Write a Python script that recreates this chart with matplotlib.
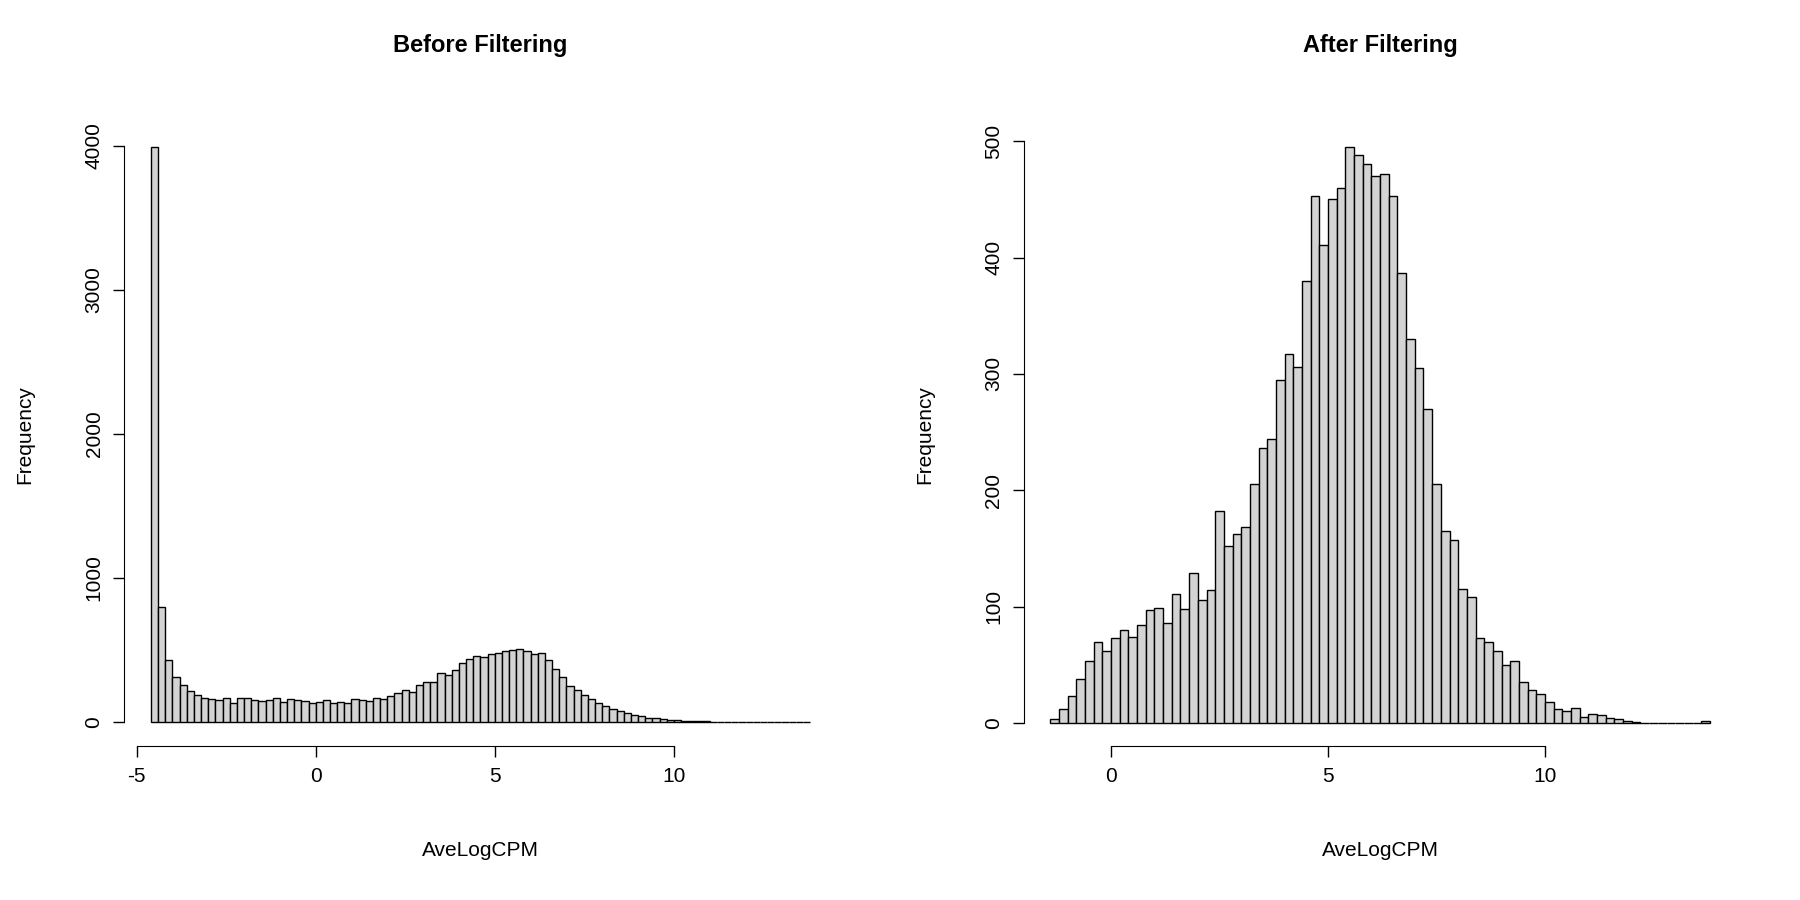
import numpy as np
import matplotlib
matplotlib.use("Agg")
import matplotlib.pyplot as plt

plt.rcParams['font.family'] = ['Liberation Sans', 'DejaVu Sans']
plt.rcParams['axes.unicode_minus'] = False

before_start = -4.6
bin_width = 0.2
before_counts = [3990, 800, 430, 310, 260, 215, 185, 170, 160, 155, 165, 130, 165, 170, 150,
                 145, 150, 165, 140, 160, 150, 145, 130, 140, 150, 135, 140, 130, 160, 150,
                 145, 170, 160, 180, 200, 220, 210, 260, 280, 280, 340, 330, 360, 410, 440,
                 460, 455, 470, 480, 490, 500, 510, 495, 470, 480, 430, 370, 310, 250, 220,
                 185, 160, 130, 110, 90, 75, 60, 50, 40, 30, 25, 20, 15, 12, 10,
                 8, 6, 5, 4, 3, 2, 2, 1, 1, 1, 1, 0, 1, 0, 0, 0, 1]

after_start = -1.4
after_counts = [3, 12, 23, 38, 53, 70, 62, 73, 80, 74, 84, 97, 99, 86, 111, 98, 129, 106, 114,
                182, 152, 162, 168, 205, 236, 244, 295, 317, 306, 380, 453, 411, 450, 460,
                495, 488, 480, 470, 472, 453, 387, 330, 305, 270, 205, 165, 157, 115, 108,
                73, 70, 62, 50, 53, 35, 28, 25, 18, 12, 10, 13, 5, 8, 7, 4, 3, 2, 1,
                0, 0, 0, 0, 0, 0, 0, 2]

W, H = 1800, 900
fig = plt.figure(figsize=(18, 9), dpi=100)

def panel(px_left, px_right, start, counts, xlim, ylim, xticks, yticks, title):
    ax = fig.add_axes([px_left / W, 1 - 746 / H, (px_right - px_left) / W, (746 - 124) / H])
    edges = start + bin_width * np.arange(len(counts))
    ax.bar(edges, counts, width=bin_width, align='edge', color='#d3d3d3',
           edgecolor='black', linewidth=1)
    ax.set_xlim(*xlim)
    ax.set_ylim(*ylim)
    for s in ['top', 'right']:
        ax.spines[s].set_visible(False)
    ax.spines['bottom'].set_bounds(xticks[0], xticks[-1])
    ax.spines['left'].set_bounds(yticks[0], yticks[-1])
    ax.set_xticks(xticks)
    ax.set_yticks(yticks)
    ax.set_yticklabels([str(v) for v in yticks], rotation=90, va='center')
    ax.tick_params(length=8, width=1, labelsize=15, pad=7)
    ax.set_xlabel('AveLogCPM', fontsize=15, labelpad=40)
    ax.set_ylabel('Frequency', fontsize=15, labelpad=36)
    ax.set_title(title, fontsize=17, fontweight='bold', pad=52)
    return ax

panel(124.4, 836.5, before_start, before_counts, (-5.34, 14.54), (-166, 4150),
      [-5, 0, 5, 10], [0, 1000, 2000, 3000, 4000], 'Before Filtering')
panel(1023.9, 1736.3, after_start, after_counts, (-2.008, 14.408), (-19.8, 514.8),
      [0, 5, 10], [0, 100, 200, 300, 400, 500], 'After Filtering')

fig.savefig('out.png', dpi=100)
